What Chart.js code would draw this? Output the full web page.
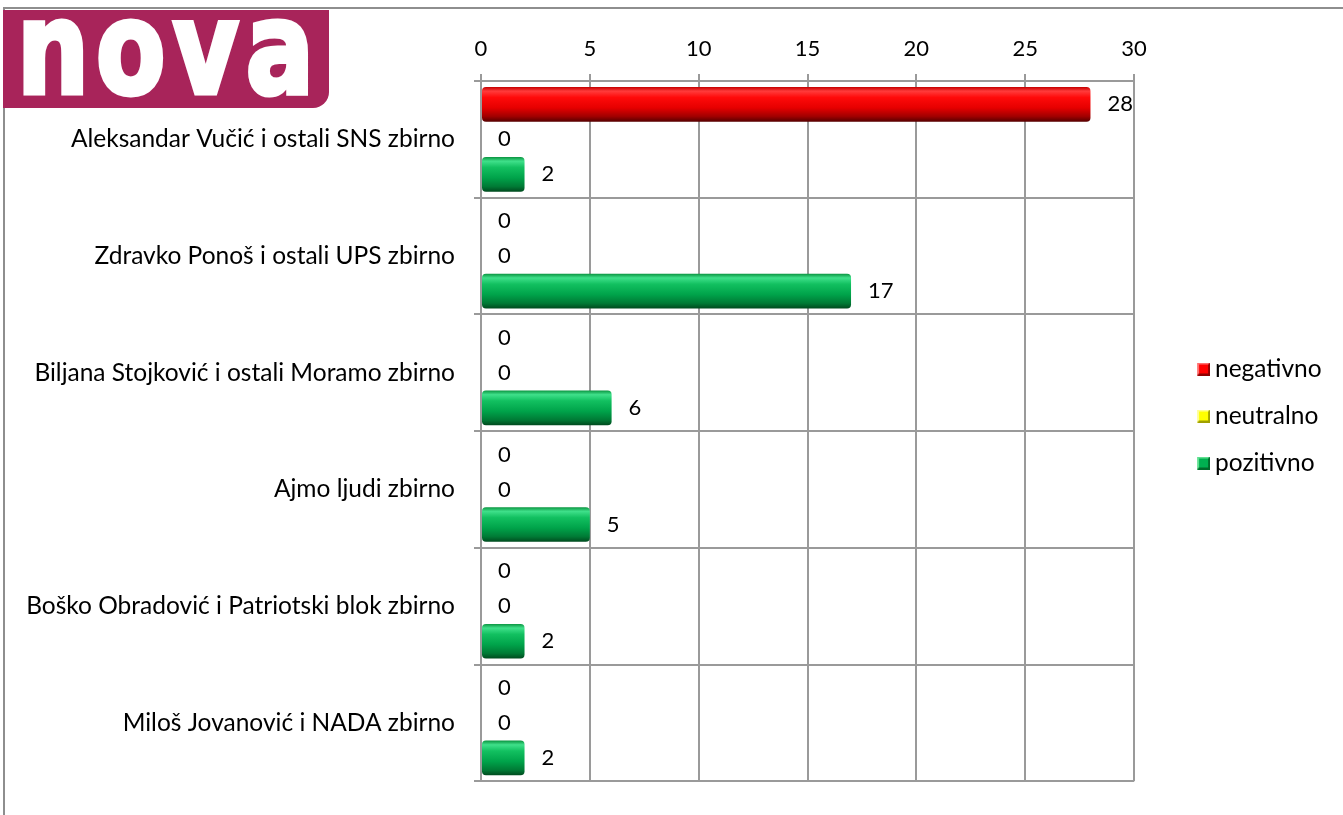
<!DOCTYPE html>
<html>
<head>
    <meta charset="utf-8">
    <title>Nova - zbirno</title>
    <script src="https://cdn.jsdelivr.net/npm/chart.js"></script>
    <style>
        body {
            margin: 0;
            background: #fff;
            font-family: 'Lato', sans-serif;
            overflow: hidden;
        }
        .frame {
            position: absolute;
            left: 3px;
            top: 7px;
            width: 1345px;
            height: 815px;
            border-top: 2px solid #8e8e8e;
            border-left: 2px solid #8e8e8e;
        }
        .logo {
            position: absolute;
            left: 3px;
            top: 10px;
            width: 326px;
            height: 98px;
            background: #a8245a;
            border-bottom-right-radius: 16px;
            overflow: hidden;
            z-index: 2;
        }
        .logo span {
            position: absolute;
            left: 14px;
            top: -36px;
            color: #fff;
            font-family: 'DejaVu Sans', sans-serif;
            font-weight: bold;
            font-size: 128px;
            letter-spacing: 9px;
            -webkit-text-stroke: 5px #fff;
            transform-origin: 0 0;
            transform: scaleX(0.79);
        }
        #chart {
            position: absolute;
            left: 0;
            top: 0;
        }
    </style>
</head>
<body>
    <div class="frame"></div>
    <div class="logo"><span>nova</span></div>
    <canvas id="chart" width="1343" height="815"></canvas>

    <script>
        const categories = [
            'Aleksandar Vučić i ostali SNS zbirno',
            'Zdravko Ponoš i ostali UPS zbirno',
            'Biljana Stojković i ostali Moramo zbirno',
            'Ajmo ljudi zbirno',
            'Boško Obradović i Patriotski blok zbirno',
            'Miloš Jovanović i NADA zbirno'
        ];
        const seriesNames = ['negativno', 'neutralno', 'pozitivno'];
        const negativno = [28, 0, 0, 0, 0, 0];
        const neutralno = [0, 0, 0, 0, 0, 0];
        const pozitivno = [2, 17, 6, 5, 2, 2];
        const xMin = 0, xMax = 30, xStep = 5;

        const FONT = 'Lato';
        const textSize = 24.5;
        const numberSize = 22;
        const gridGray = '#9a9a9a';

        // cylinder-like shading for the bars
        const shades = {
            red: [[0, '#c40000'], [0.12, '#ff3b3b'], [0.3, '#ff0a0a'], [0.6, '#e60000'], [0.85, '#a00000'], [1, '#560000']],
            yellow: [[0, '#d8d800'], [0.15, '#ffff60'], [0.5, '#ffff00'], [1, '#8a8a00']],
            green: [[0, '#0a9440'], [0.12, '#3fe08a'], [0.3, '#12c060'], [0.6, '#00a34a'], [0.85, '#007a35'], [1, '#004a1e']]
        };

        function barShade(name) {
            const stops = shades[name];
            return function(ctx) {
                const chart = ctx.chart;
                const y = chart.scales.y;
                if (ctx.type !== 'data' || !y || !isFinite(y.height)) return stops[2][1];
                const catSize = y.height / categories.length;
                const group = catSize * 0.9;
                const slot = group / 3;
                const thick = slot * 0.99;
                const center = y.getPixelForValue(ctx.dataIndex) + (ctx.datasetIndex - 1) * slot;
                const g = chart.ctx.createLinearGradient(0, center - thick / 2, 0, center + thick / 2);
                stops.forEach(s => g.addColorStop(s[0], s[1]));
                return g;
            };
        }

        // legend geometry: plot ends at 1134, squares end at 1210, text starts at 1215
        const plotRight = 1134;
        const legendPad = 47 - textSize;
        const iconWidth = 1215 - plotRight - legendPad - textSize / 2;
        const iconImgWidth = Math.round(2 * (1210 - (plotRight + legendPad + iconWidth / 2)));

        // bevelled square for the legend, drawn at the right end of a wider image
        function legendSquare(base, light, dark) {
            const c = document.createElement('canvas');
            c.width = iconImgWidth; c.height = 13;
            const g = c.getContext('2d');
            const s = 13, x0 = iconImgWidth - s;
            g.fillStyle = dark;
            g.fillRect(x0, 0, s, s);
            g.fillStyle = light;
            g.beginPath();
            g.moveTo(x0, 0); g.lineTo(x0 + s, 0); g.lineTo(x0, s); g.closePath();
            g.fill();
            g.fillStyle = base;
            g.fillRect(x0 + 2, 2, s - 4, s - 4);
            return c;
        }
        const legendIcons = [
            legendSquare('#ff0000', '#ff7070', '#900000'),
            legendSquare('#ffff00', '#ffff90', '#a0a000'),
            legendSquare('#00b050', '#60e090', '#006a2a')
        ];

        // the value beside each bar
        const valueLabels = {
            id: 'valueLabels',
            afterDatasetsDraw(chart) {
                const ctx = chart.ctx;
                ctx.save();
                ctx.font = numberSize + 'px ' + FONT;
                ctx.fillStyle = '#000';
                ctx.textAlign = 'left';
                ctx.textBaseline = 'middle';
                chart.data.datasets.forEach((ds, di) => {
                    chart.getDatasetMeta(di).data.forEach((bar, i) => {
                        ctx.fillText(String(ds.data[i]), bar.x + 17, bar.y);
                    });
                });
                ctx.restore();
            }
        };

        const mctx = document.createElement('canvas').getContext('2d');
        mctx.font = textSize + 'px ' + FONT;
        const maxText = Math.max(...seriesNames.map(s => mctx.measureText(s).width));
        const legendWidth = legendPad + iconWidth + textSize / 2 + maxText + 10;
        const rightPad = Math.max(0, 1343 - plotRight - legendWidth);

        new Chart(document.getElementById('chart'), {
            type: 'bar',
            data: {
                labels: categories,
                datasets: [
                    { label: seriesNames[0], data: negativno, backgroundColor: barShade('red') },
                    { label: seriesNames[1], data: neutralno, backgroundColor: barShade('yellow') },
                    { label: seriesNames[2], data: pozitivno, backgroundColor: barShade('green') }
                ]
            },
            options: {
                indexAxis: 'y',
                responsive: false,
                animation: false,
                datasets: {
                    bar: {
                        categoryPercentage: 0.9,
                        barPercentage: 0.99,
                        borderRadius: 4,
                        borderSkipped: false
                    }
                },
                layout: {
                    padding: { top: 0, left: 0, bottom: 28, right: rightPad }
                },
                plugins: {
                    tooltip: { enabled: false },
                    legend: {
                        position: 'right',
                        align: 'center',
                        title: { display: true, text: '', font: { size: 10 }, padding: { top: 33, bottom: 0 } },
                        labels: {
                            usePointStyle: true,
                            pointStyleWidth: iconWidth,
                            padding: legendPad,
                            color: '#000',
                            font: { family: FONT, size: textSize },
                            generateLabels(chart) {
                                return chart.data.datasets.map((ds, i) => ({
                                    text: ds.label,
                                    pointStyle: legendIcons[i],
                                    fontColor: '#000',
                                    lineWidth: 0,
                                    hidden: false,
                                    datasetIndex: i
                                }));
                            }
                        }
                    }
                },
                scales: {
                    x: {
                        type: 'linear',
                        position: 'top',
                        min: xMin,
                        max: xMax,
                        ticks: {
                            stepSize: xStep,
                            color: '#000',
                            padding: 12,
                            font: { family: FONT, size: numberSize }
                        },
                        grid: { color: gridGray, lineWidth: 2, tickLength: 7 },
                        border: { color: gridGray, width: 2 },
                        afterFit(scale) { scale.height = 81; }
                    },
                    y: {
                        type: 'category',
                        ticks: {
                            color: '#000',
                            padding: 19,
                            font: { family: FONT, size: textSize }
                        },
                        grid: { color: gridGray, lineWidth: 2, tickLength: 7, offset: true },
                        border: { color: gridGray, width: 2 },
                        afterFit(scale) { scale.width = 481; }
                    }
                }
            },
            plugins: [valueLabels]
        });
    </script>
</body>
</html>
